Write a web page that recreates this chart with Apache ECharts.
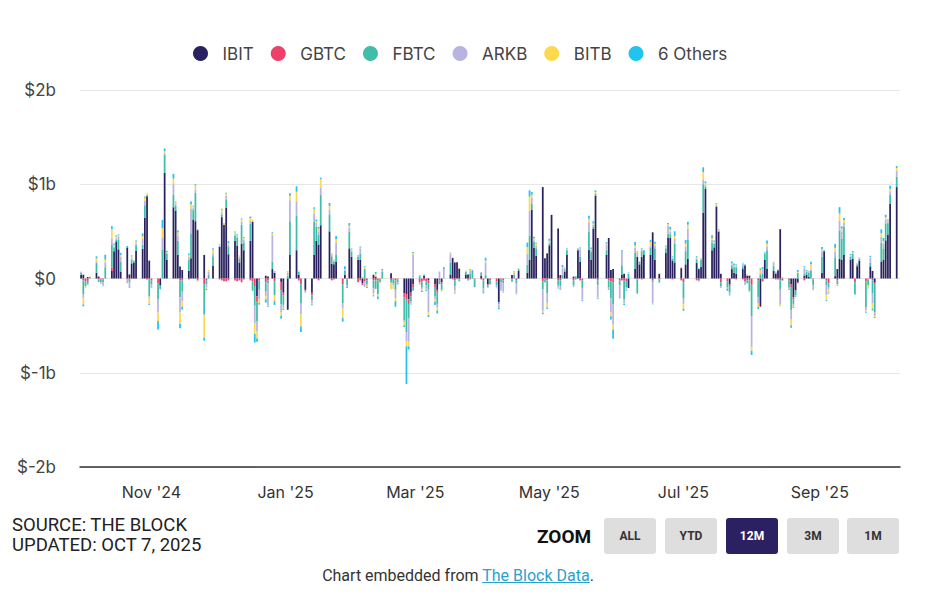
<!DOCTYPE html>
<html><head><meta charset="utf-8">
<script src="https://cdn.jsdelivr.net/npm/echarts@6/dist/echarts.min.js"></script>
<style>
html,body{margin:0;padding:0;background:#fff;}
#wrap{position:relative;width:946px;height:611px;overflow:hidden;font-family:Inter,Roboto,sans-serif;}
#chart{position:absolute;left:0;top:0;width:946px;height:611px;}
.src{position:absolute;left:12px;top:515px;font-family:Roboto,sans-serif;font-size:18.5px;line-height:20px;color:#222;}
.zoom{position:absolute;left:537px;top:525px;font-family:Roboto,sans-serif;font-weight:700;font-size:19px;color:#111;}
.btn{position:absolute;top:518px;width:52px;height:36px;border-radius:3px;background:#dedede;color:#333;font-family:Roboto,sans-serif;font-weight:700;font-size:12px;line-height:36px;text-align:center;}
.btn.on{background:#2b2162;color:#fff;}
.foot{position:absolute;left:0;width:916px;top:566px;text-align:center;font-family:Roboto,sans-serif;font-size:16px;color:#333;}
.foot a{color:#2a9fd0;text-decoration:underline;}
</style></head>
<body>
<div id="wrap">
  <div id="chart"></div>
  <div class="src">SOURCE: THE BLOCK<br>UPDATED: OCT 7, 2025</div>
  <div class="zoom">ZOOM</div>
  <div class="btn" style="left:604px">ALL</div>
  <div class="btn" style="left:665px">YTD</div>
  <div class="btn on" style="left:726px">12M</div>
  <div class="btn" style="left:787px">3M</div>
  <div class="btn" style="left:847px">1M</div>
  <div class="foot">Chart embedded from <a>The Block Data</a>.</div>
</div>
<script>
// Daily net flows in $m, one entry per trading day (Sep 30 2024 .. Oct 6 2025), grouped by week
const ibit = [
40,40,0,15,0, 60,20,0,0,0, 80,289,393,309,70, 329,43,160,165,292, 315,643,872,190,0,
0,-70,0,1120,200, 756,720,250,126,90, 80,216,626,608,513, 250,0,0,137,
338,650,570,750,257, 400,350,170,370,300, 400,600,0,-188,0, 30,20,100,60, -36,-150,-332,250,
300,40,0,-120, -150,250,400,360,565, 500,155,150,180, 0,40,0,320,230,
200,200,-50,0,0, 40,20,0,0,0, 55,0,0,0, -159,-164,-220,-150,-60,
0,0,30,0,-20, -60,-120,0,-40,0, 42,218,170,172,105, 42,42,0,0,0, 30,0,0,-60,0,
0,-252,0,0,0, 36,0,0,80, 60,200,730,327,240, 970,216,267,351,675,
531,36,0,69,250, 20,0,300,180,0, 306,200,530,877,430, 250,430,90,100,
0,40,50,0,-100, 100,230,150,230,250, 250,490,200,50, 270,436,430,190,170, 110,0,150,210,
164,100,125,700,953, 300,330,763,497,50, 0,-60,100,60,50, 100,140,30,30,0,
0,-292,0,200,100, 80,50,87,523,0, 0,-60,-200,-127,-40, 30,40,20,0,0, 60,289,0,0,
25,100,211,200,250, 200,209,0,130,190, 0,0,129,80,-37, 180,199,405,466,792, 970
];
const gbtc = [
0,-20,-30,-25,0, 0,-10,-10,-10,0, 37,0,0,0,0, -10,-12,0,-5,0, 0,0,-10,-10,-20,
-50,-10,0,0,0, 0,0,0,-20,-20, -10,0,0,0,-20, -60,-20,0,0,
-10,-20,-30,-30,-20, -20,-30,-20,-40,-10, -20,-30,-80,-60,-20, -40,-20,0,-30, -90,-30,0,0,
0,-20,-60,-10, -30,0,0,-20,0, 0,-20,-10,0, -60,0,-10,0,0,
-40,-20,-20,-30,-20, -20,-20,-20,-10,0, -15,-10,-20,-10, -40,-60,-50,-40,-30,
-40,-30,-20,-30,-30, -30,-30,-20,-20,0, 0,-10,-20,0,-10, 0,-10,-10,0,-10, -10,-20,0,-10,-20,
-30,0,-10,-20,0, -10,0,-20,0, 0,0,0,0,0, -30,-10,-20,0,0,
-20,-20,0,0,0, -20,-10,0,-20,-20, 0,0,0,0,-20, 0,-20,-30,-40,
-20,-20,-20,-30,0, 0,-10,0,-10,0, 0,-20,0,-10, 0,0,0,-10,0, -20,-40,0,0,
-20,-20,0,0,0, 0,0,0,0,-40, -30,-20,0,0,-10, -10,-30,-20,-20,-67,
-20,-10,-30,0,0, 0,-10,-10,-20,-20, -20,-30,-20,0,-10, -20,0,0,0,-10, 0,0,-20,-50,
0,-20,0,0,0, 0,0,-40,0,0, -30,-10,0,-20,-20, 0,0,0,0,0, 0
];
const fbtc = [
20,-145,-50,-30,15, 103,-25,-30,-30,120, 239,35,20,100,110, 5,-30,40,20,60, 45,134,12,-180,-40,
-170,-30,308,190,60, 135,50,150,-180,-120, 120,256,100,300,0, -320,-40,40,100,
0,30,0,90,80, 50,80,40,200,80, 180,-100,-208,-208,-100, -100,-30,80,-150, -150,-100,30,357,
370,30,-200,0, -50,350,150,100,320, 180,80,30,70, -200,40,-60,180,50,
30,60,10,100,-40, -80,-90,-150,-30,70, -30,-40,-100,-30, -247,-345,-150,-50,-40,
20,-60,10,-40,-70, -100,-120,-40,-60,0, 128,0,-60,-7,-20, 30,-10,50,80,-80, 30,-85,40,-20,-40,
-40,-20,-30,-30,0, -20,40,-30,20, 88,253,60,60,80, -87,-30,-138,20,0,
-50,-60,40,20,50, -50,20,10,50,-80, 188,80,23,20,-50, 50,-70,-180,-230,
-50,100,-200,-60,50, 170,-150,30,60,50, 80,-20,120,-30, 50,40,40,20,200, 0,-173,140,200,
40,-10,70,300,20, 80,40,0,10,-40, -60,-70,40,60,70, 30,-10,-30,-110,-331,
-180,40,50,60,200, 50,10,0,-100,10, -70,-247,-50,-50,60, 20,30,40,80,-60, 170,10,-50,-40,
200,-40,299,220,300, 30,50,-130,20,20, -276,-60,40,-140,-300, 200,120,180,120,100, 112
];
const arkb = [
10,-40,0,0,0, 20,0,-10,-30,50, 70,15,15,40,50, -40,-60,15,0,20, 60,50,5,-20,-30,
-140,0,127,20,10, 109,20,50,-160,-100, 30,267,20,30,-10, -10,-30,30,30,
10,20,0,40,20, 20,20,20,30,30, 30,10,-190,-100,-100, -50,-230,280,20, -80,-30,30,222,
150,-10,-120,-10, -30,90,40,40,80, 50,20,10,130, -60,10,-20,40,20,
10,60,0,-60,-20, -60,0,0,0,20, 0,-20,-90,-10, -20,-100,-250,-20,250,
-20,-20,0,-40,-240, -30,-40,70,0,100, 88,0,-50,0,0, 5,0,30,0,0, 10,-40,130,0,0,
-20,-40,-80,-90,0, 0,20,-110,0, 116,267,70,20,30, -226,0,-100,10,0,
-20,-40,70,20,10, -20,0,0,80,-120, 100,20,20,10,-130, 60,-20,-150,-220,
-130,150,-40,-20,0, 60,40,0,20,0, 20,-220,30,0, 10,80,30,10,50, 0,-60,50,120,
10,0,10,50,20, 30,10,20,5,-20, -20,-20,10,10,10, 30,-30,10,-10,-327,
-60,20,40,10,40, 40,10,5,-150,0, -20,-100,-20,-10,0, 60,0,10,10,-50, 60,0,-110,-20,
60,0,100,80,40, 10,10,0,5,5, -30,0,50,-100,-40, 60,50,40,20,30, 60
];
const bitb = [
5,-70,-10,0,10, 30,0,0,-10,30, 100,20,20,15,20, 0,0,20,5,20, 30,30,10,-60,-5,
-90,0,100,20,10, 60,20,40,-120,-60, 20,50,20,50,0, -240,-20,20,40,
10,30,10,20,20, 20,10,10,30,20, 30,10,-110,-80,-40, -30,-10,20,-60, -40,-10,10,50,
100,10,-130,0, -14,50,20,30,90, 40,10,5,40, -100,10,0,20,10,
5,10,0,20,-10, -20,30,-20,-10,0, -70,-40,-30,0, -30,-50,-50,-10,20,
-10,-20,0,-14,-30, -30,-30,0,-10,0, 10,0,-20,0,5, 5,0,10,0,-3, 0,0,20,-5,0,
-10,0,0,-5,0, 0,10,-5,5, 70,150,30,20,20, -20,0,-50,20,0,
-10,0,10,5,5, 0,0,5,10,-10, 40,15,10,10,-10, 10,0,-40,-50,
0,0,-10,-10,10, 20,10,0,5,0, 40,-10,20,0, 10,20,20,10,30, 10,-50,30,40,
10,5,10,80,20, 20,10,10,5,0, 0,0,10,10,10, 5,5,5,-5,-40,
-40,30,10,5,30, 5,5,0,-20,0, -5,-60,-10,0,10, 10,5,5,60,-5, 20,0,-50,-40,
40,-10,80,30,30, 10,10,0,5,5, -20,-30,10,-60,-10, 40,30,25,10,30, 30
];
const others = [
0,-20,-5,-10,0, 22,-3,-5,-1,53, 29,12,10,6,23, 10,0,10,3,10, 29,13,4,-10,-5,
-90,-6,87,30,14, 50,7,20,-47,-30, 15,27,7,12,7, -30,-13,0,13,
5,10,6,10,19, 10,9,3,8,8, 17,3,-92,-35,-17, -36,-10,10,-40, -30,-13,5,26,
58,2,-58,-9, -10,15,16,17,15, 32,3,3,30, -38,30,-10,28,8,
5,10,0,10,-10, -10,20,-30,0,10, 0,0,-60,-12, -20,-400,-34,-5,10,
14,-13,2,-10,-19, -30,-31,3,-5,20, 6,1,-9,0,3, 2,4,9,9,0, 0,-12,30,-4,-4,
-3,-14,-7,-4,2, -4,6,-4,2, 47,66,27,15,10, -16,-3,-15,21,-1,
-6,-2,22,3,6, 0,7,5,10,-10, 33,14,24,17,-9, 15,-10,-36,-100,
-10,10,-10,-10,5, 36,8,0,7,1, 18,-4,19,-4, 10,12,28,6,51, 2,-19,38,31,
12,5,3,50,17, 30,13,7,6,0, -21,-10,20,20,10, 2,5,2,1,-47,
-23,16,21,6,34, 3,1,4,-3,-4, -7,-26,-11,-7,20, 10,13,6,29,-1, 23,2,-10,-10,
43,-7,67,23,22, 10,13,0,3,3, -7,-4,12,-18,-11, 42,31,26,11,33, 20
];
const seriesNames = ['IBIT','GBTC','FBTC','ARKB','BITB','6 Others'];
const seriesColors = ['#2a2260','#ee4068','#3fbda8','#b9b3e1','#fcd94f','#20c4ee'];
const monthLabels = {'2024-11-01':"Nov '24",'2025-01-01':"Jan '25",'2025-03-01':"Mar '25",'2025-05-01':"May '25",'2025-07-01':"Jul '25",'2025-09-01':"Sep '25"};
const holidays = ['2024-11-28','2024-12-25','2025-01-01','2025-01-09','2025-01-20','2025-02-17','2025-04-18','2025-05-26','2025-06-19','2025-07-04','2025-09-01'];

function fmt(d){return d.getFullYear()+'-'+String(d.getMonth()+1).padStart(2,'0')+'-'+String(d.getDate()).padStart(2,'0');}
const calendarDays = [], tradingDays = [];
for (let d = new Date(2024,8,30,12); d <= new Date(2025,9,7,13); d.setDate(d.getDate()+1)) {
  const s = fmt(d); calendarDays.push(s);
  const wd = d.getDay();
  if (wd !== 0 && wd !== 6 && holidays.indexOf(s) < 0 && s <= '2025-10-06') tradingDays.push(s);
}
const tIndex = {}; tradingDays.forEach((s,i)=>{tIndex[s]=i;});
const allVals = [ibit,gbtc,fbtc,arkb,bitb,others];
const series = allVals.map((vals,k)=>({
  name: seriesNames[k], type:'bar', stack:'flow', barWidth:'80%',
  itemStyle:{color:seriesColors[k]}, emphasis:{disabled:true},
  data: calendarDays.map(s => (s in tIndex && vals[tIndex[s]] !== undefined) ? vals[tIndex[s]] : '-')
}));

const chart = echarts.init(document.getElementById('chart'), null, {renderer:'svg'});
chart.setOption({
  animation:false,
  color: seriesColors,
  legend:{data:seriesNames, left:188, top:40, icon:'circle', itemWidth:34, itemHeight:15, itemGap:17,
    textStyle:{fontSize:17, color:'#444', fontFamily:'Inter'}},
  grid:{left:80, right:46, top:90, bottom:144, containLabel:false},
  xAxis:{type:'category', data:calendarDays, boundaryGap:true,
    axisLine:{onZero:false, lineStyle:{color:'#333', width:1.5}},
    axisTick:{show:false},
    axisLabel:{interval:(i,v)=> v in monthLabels, formatter:v=>monthLabels[v]||'', margin:17,
      fontSize:16, color:'#333', fontFamily:'Inter'},
    splitLine:{show:false}},
  yAxis:{type:'value', min:-2000, max:2000, interval:1000,
    axisLine:{show:false}, axisTick:{show:false},
    splitLine:{lineStyle:{color:'#e6e6e6', width:1}},
    axisLabel:{align:'right', margin:24, fontSize:17, color:'#444', fontFamily:'Inter',
      formatter:v=> v===0 ? '$0' : '$'+(v/1000)+'b'}},
  series: series
});
</script>
</body></html>
